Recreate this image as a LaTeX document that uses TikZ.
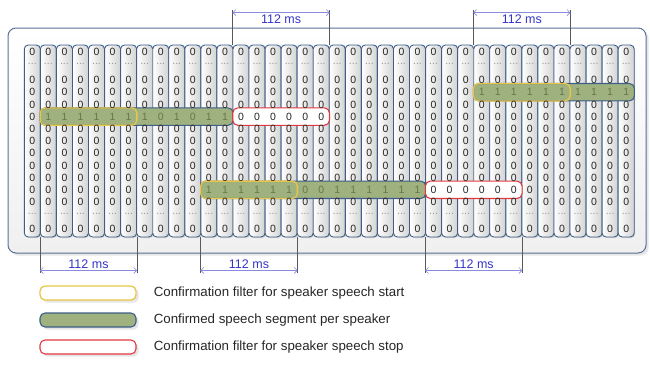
\documentclass[tikz,border=0pt]{standalone}
\usepackage{fontspec}
\setmainfont{Liberation Sans}
\usetikzlibrary{positioning,calc,fit,shadows,arrows.meta}
\definecolor{Steel}{HTML}{3F5E88}
\definecolor{Frame}{HTML}{5A7296}
\definecolor{Olive}{HTML}{9FB17E}
\definecolor{OliveInk}{HTML}{66784A}
\definecolor{Gold}{HTML}{E9C64A}
\definecolor{Scarlet}{HTML}{E2383C}
\definecolor{DimLine}{HTML}{8A8AE0}
\definecolor{DimInk}{HTML}{3535C8}
\pgfdeclarelayer{board}
\pgfdeclarelayer{cols}
\pgfdeclarelayer{bars}
\pgfsetlayers{board,cols,bars,main}

\begin{document}
\begin{tikzpicture}[x=1pt,y=-1pt,
    cell/.style={inner sep=0pt,minimum width=16.05pt,minimum height=12.2pt,text=black!85,font=\fontsize{10.5}{10.5}\selectfont},
    gap/.style={text=gray!80},
    seg/.style={text=OliveInk},
    colbox/.style={draw=Steel,line width=.9pt,rounded corners=4pt,left color=white,right color=gray!35,minimum width=16.05pt,minimum height=192pt,inner sep=0pt,drop shadow={shadow xshift=1pt,shadow yshift=-1pt,opacity=.25}},
    segbar/.style={draw=Steel,line width=1.1pt,fill=Olive,rounded corners=5pt,inner xsep=0pt,inner ysep=2.4pt},
    startbox/.style={draw=Gold,line width=1.3pt,rounded corners=5pt,inner xsep=0pt,inner ysep=2.4pt},
    stopbox/.style={draw=Scarlet,line width=1.1pt,fill=white,rounded corners=5pt,inner xsep=0pt,inner ysep=2.4pt},
    extline/.style={gray!70!black,line width=.5pt},
    dimline/.style={DimLine,line width=.6pt,{Straight Barb[length=3pt]}-{Straight Barb[length=3pt]}},
    dimtext/.style={text=DimInk,font=\fontsize{12.5}{14}\selectfont,inner sep=1.5pt},
    legend/.style={font=\fontsize{13.3}{15}\selectfont,text=black!85,inner sep=0pt}]
  \useasboundingbox (0,0) rectangle (650,383);
  \begin{pgfonlayer}{board}
    \node[draw=Frame,line width=1pt,rounded corners=8pt,top color=white,bottom color=gray!12,minimum width=638pt,minimum height=225pt,drop shadow={opacity=.2}] (board) at (327,140.5) {};
  \end{pgfonlayer}
  % columns with the frame values
  \foreach \c in {1,...,38} {
    \pgfmathsetmacro\xc{24.3+16.05*(\c-0.5)}
    \begin{pgfonlayer}{cols}
      \node[colbox] (col\c) at (\xc,141) {};
    \end{pgfonlayer}
    \node[cell] (c\c t) at (\xc,52) {0};
    \node[cell,gap] (c\c da) at (\xc,64) {...};
    \foreach \r in {1,...,11} {
      \pgfmathtruncatemacro\inseg{((\r==2)&&(\c>=29))||((\r==4)&&(\c>=2)&&(\c<=13))||((\r==10)&&(\c>=12)&&(\c<=25))}
      \ifnum\inseg=0
        \node[cell] (c\c r\r) at (\xc,{80+12.2*(\r-1)}) {0};
      \fi
    }
    \node[cell,gap] (c\c db) at (\xc,214) {...};
    \node[cell] (c\c b) at (\xc,229) {0};
  }
  % speaker rows
  \foreach \v [count=\i from 2] in {1,1,1,1,1,1,1,0,1,0,1,1}
    \node[cell,seg] (c\i r4) at ({24.3+16.05*(\i-0.5)},116.6) {\v};
  \foreach \v [count=\i from 29] in {1,1,1,1,1,1,1,1,1,1}
    \node[cell,seg] (c\i r2) at ({24.3+16.05*(\i-0.5)},92.2) {\v};
  \foreach \v [count=\i from 12] in {1,1,1,1,1,1,0,0,1,1,1,1,1,1}
    \node[cell,seg] (c\i r10) at ({24.3+16.05*(\i-0.5)},189.8) {\v};
  \begin{pgfonlayer}{bars}
    \node[segbar,fit=(c2r4)(c13r4)] (seg1) {};
    \node[startbox,fit=(c2r4)(c7r4)] (start1) {};
    \node[stopbox,fit=(c14r4)(c19r4)] (stop1) {};
    \node[segbar,fit=(c29r2)(c38r2)] (seg2) {};
    \node[startbox,fit=(c29r2)(c34r2)] (start2) {};
    \node[segbar,fit=(c12r10)(c25r10)] (seg3) {};
    \node[startbox,fit=(c12r10)(c17r10)] (start3) {};
    \node[stopbox,fit=(c26r10)(c31r10)] (stop3) {};
  \end{pgfonlayer}
  % 112 ms spans above
  \coordinate (topA1) at ($(col14.north west)+(0,-35)$);
  \coordinate (topA2) at ($(col19.north east)+(0,-35)$);
  \coordinate (topB1) at ($(col29.north west)+(0,-35)$);
  \coordinate (topB2) at ($(col34.north east)+(0,-35)$);
  \draw[extline] (topA1) -- (col14.north west);
  \draw[extline] (topA2) -- (col19.north east);
  \draw[extline] (topB1) -- (col29.north west);
  \draw[extline] (topB2) -- (col34.north east);
  \draw[dimline] ($(topA1)+(0,3)$) -- node[dimtext,below] (msA) {112 ms} ($(topA2)+(0,3)$);
  \draw[dimline] ($(topB1)+(0,3)$) -- node[dimtext,below] (msB) {112 ms} ($(topB2)+(0,3)$);
  % 112 ms spans below
  \coordinate (botA1) at ($(col2.south west)+(0,36)$);
  \coordinate (botA2) at ($(col7.south east)+(0,36)$);
  \coordinate (botB1) at ($(col12.south west)+(0,36)$);
  \coordinate (botB2) at ($(col17.south east)+(0,36)$);
  \coordinate (botC1) at ($(col26.south west)+(0,36)$);
  \coordinate (botC2) at ($(col31.south east)+(0,36)$);
  \draw[extline] (col2.south west) -- (botA1);
  \draw[extline] (col7.south east) -- (botA2);
  \draw[extline] (col12.south west) -- (botB1);
  \draw[extline] (col17.south east) -- (botB2);
  \draw[extline] (col26.south west) -- (botC1);
  \draw[extline] (col31.south east) -- (botC2);
  \draw[dimline] ($(botA1)+(0,-3)$) -- node[dimtext,above] (msC) {112 ms} ($(botA2)+(0,-3)$);
  \draw[dimline] ($(botB1)+(0,-3)$) -- node[dimtext,above] (msD) {112 ms} ($(botB2)+(0,-3)$);
  \draw[dimline] ($(botC1)+(0,-3)$) -- node[dimtext,above] (msE) {112 ms} ($(botC2)+(0,-3)$);
  % legend
  \node[startbox,fill=white,minimum width=96pt,minimum height=14pt,drop shadow={opacity=.2}] (keyStart) at (88,293) {};
  \node[segbar,minimum width=96pt,minimum height=14pt,drop shadow={opacity=.2}] (keySeg) at (88,320) {};
  \node[stopbox,minimum width=96pt,minimum height=14pt,drop shadow={opacity=.2}] (keyStop) at (88,347) {};
  \node[legend,right=17pt of keyStart] (txtStart) {Confirmation filter for speaker speech start};
  \node[legend,right=17pt of keySeg] (txtSeg) {Confirmed speech segment per speaker};
  \node[legend,right=17pt of keyStop] (txtStop) {Confirmation filter for speaker speech stop};
\end{tikzpicture}
\end{document}
